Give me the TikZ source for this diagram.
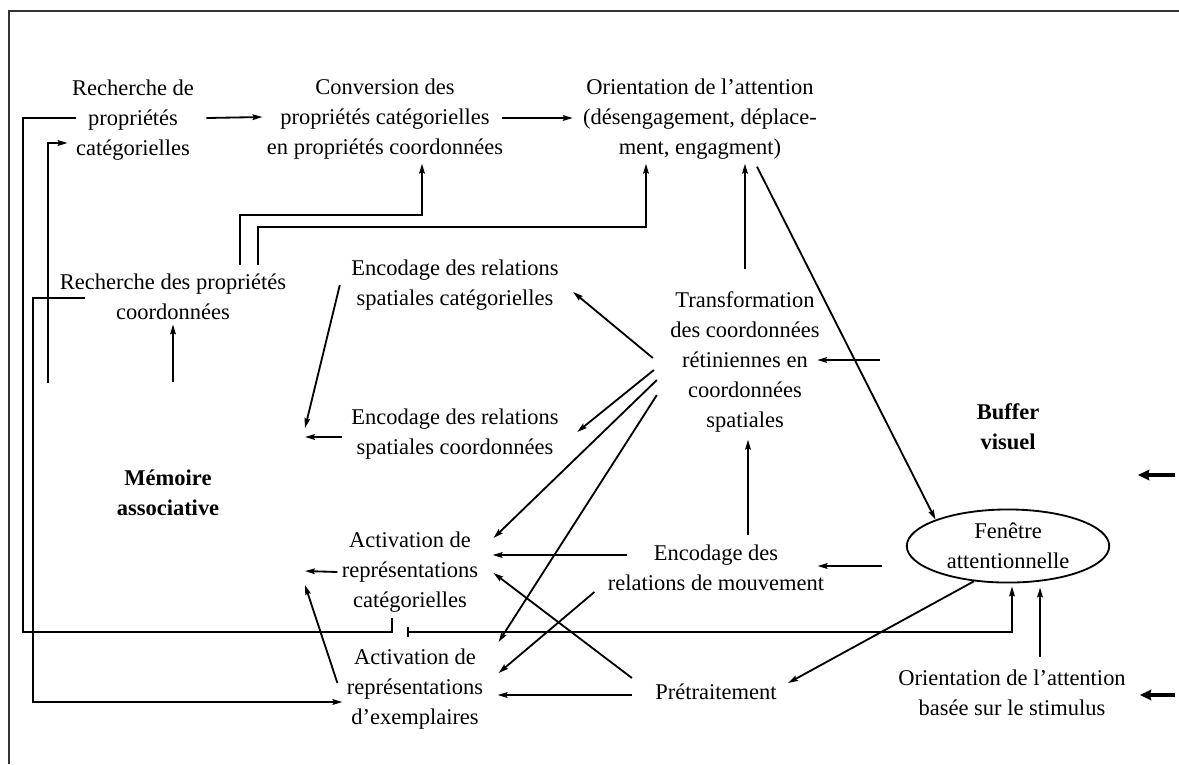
\documentclass[tikz,border=0pt]{standalone}
\usepackage{fontspec}
\setmainfont{Liberation Serif}
\usetikzlibrary{arrows.meta,shapes.geometric,calc}
\newcommand{\diagfont}{\fontsize{16}{21.3}\selectfont}
\tikzstyle{none}=[]
\tikzstyle{process}=[align=center, inner sep=3pt, font=\diagfont]
\tikzstyle{bold process}=[process, font=\diagfont\bfseries]
\tikzstyle{window}=[process, draw, ellipse, line width=1.3pt, inner sep=0pt, minimum width=144pt, minimum height=52pt]
\tikzstyle{flow line}=[line width=1.3pt]
\tikzstyle{pointer}=[flow line, -{Stealth[length=7pt,width=4pt,inset=1pt]}]
\tikzstyle{bar pointer}=[flow line, {Bar[width=7pt]}-{Stealth[length=7pt,width=4pt,inset=1pt]}]
\tikzstyle{big pointer}=[line width=2.8pt, -{Stealth[length=8pt,width=7.5pt,inset=1pt]}]
\tikzstyle{frame line}=[line width=1.8pt, black!80]

\begin{document}
\begin{tikzpicture}[x=0.25mm, y=-0.25mm]
                \useasboundingbox (0, 0) rectangle (1179, 764);
                \draw [style=frame line] (9, 764) -- (9, 11) -- (1179, 11);
                % processus
                \node [style=process] (rechcat) at (133, 120) {Recherche de\\propriétés\\catégorielles};
                \node [style=process] (conv) at (385, 119) {Conversion des\\propriétés catégorielles\\en propriétés coordonnées};
                \node [style=process] (orient) at (700, 119) {Orientation de l'attention\\(désengagement, déplace-\\ment, engagment)};
                \node [style=process] (rechcoord) at (173, 297) {Recherche des propriétés\\coordonnées};
                \node [style=process] (enccat) at (455, 285) {Encodage des relations\\spatiales catégorielles};
                \node [style=process] (enccoord) at (455, 434) {Encodage des relations\\spatiales coordonnées};
                \node [style=bold process] (memoire) at (168, 493) {Mémoire\\associative};
                \node [style=process] (transf) at (745, 362) {Transformation\\des coordonnées\\rétiniennes en\\coordonnées\\spatiales};
                \node [style=process] (actcat) at (410, 572) {Activation de\\représentations\\catégorielles};
                \node [style=process] (actex) at (415, 689) {Activation de\\représentations\\d'exemplaires};
                \node [style=process] (encmouv) at (716, 568) {Encodage des\\relations de mouvement};
                \node [style=process] (pretr) at (716, 692) {Prétraitement};
                \node [style=window] (fenetre) at (1008, 546) {Fenêtre\\attentionnelle};
                \node [style=bold process] (buffer) at (1008, 427) {Buffer\\visuel};
                \node [style=process] (orstim) at (1012, 693) {Orientation de l'attention\\basée sur le stimulus};
                % bouts libres
                \coordinate (m1) at (173, 382);
                \coordinate (m2) at (48, 383);
                \coordinate (m3) at (305, 428);
                \coordinate (m4) at (305, 437);
                \coordinate (m5) at (305, 571);
                \coordinate (m6) at (305, 585);
                \coordinate (bar) at (407, 632);
                \coordinate (t1) at (880, 360);
                \coordinate (t2) at (882, 566);
                \coordinate (b1) at (1175, 475);
                \coordinate (b1e) at (1138, 475);
                \coordinate (b2) at (1175, 695);
                \coordinate (b2e) at (1140, 695);
                % ligne du haut
                \draw [style=pointer] ($(rechcat.east)+(8,-2)$) to ($(conv.west)+(0,-2)$);
                \draw [style=pointer] ($(conv.east)+(-6,-1)$) to ($(orient.west)+(-6,-1)$);
                \draw [style=pointer] ($(rechcoord.north)+(67,-5)$) -- ++(0,-50) -| ($(conv.south)+(37,0)$);
                \draw [style=pointer] ($(rechcoord.north)+(85,-5)$) -- ++(0,-38) -| ($(orient.south)+(-54,0)$);
                \draw [style=pointer] ($(transf.north)+(0,-18)$) to (transf.north |- orient.south);
                \draw [style=pointer] ($(orient.south)+(57,3)$) to (fenetre.160);
                % memoire associative
                \draw [style=pointer] (m1) to (m1 |- rechcoord.south);
                \draw [style=pointer] (m2) |- ($(rechcat.west)+(0,23)$);
                \draw [style=flow line] ($(rechcat.west)+(8,-2)$) -- ++(-53,0) |- ($(bar)+(-15,0)$) -- ++(0,-14);
                \draw [style=pointer] ($(rechcoord)+(-88,1)$) -- ++(-52,0) |- ($(actex.west)+(0,13)$);
                \draw [style=pointer] ($(enccat.west)+(-7,0)$) to (m3);
                \draw [style=pointer] ($(enccoord.west)+(-5,3)$) to (m4);
                \draw [style=pointer] (actcat.west) to (m5);
                \draw [style=pointer] ($(actex.west)+(-5,-6)$) to (m6);
                % transformation
                \draw [style=pointer] ($(transf.west)+(-13,-4)$) to ($(enccat.east)+(10,7)$);
                \draw [style=pointer] ($(transf.west)+(-12,8)$) to ($(enccoord.east)+(14,-2)$);
                \draw [style=pointer] ($(transf.west)+(-9,18)$) to ($(actcat.east)+(11,-34)$);
                \draw [style=pointer] ($(transf.west)+(-9,33)$) to ($(actex.east)+(11,-47)$);
                \draw [style=pointer] (t1) to ($(transf.east)+(-7,-2)$);
                % mouvement et pretraitement
                \draw [style=pointer] ($(encmouv.west)+(24,-13)$) to ($(actcat.east)+(10,-17)$);
                \draw [style=pointer] ($(encmouv.west)+(-9,24)$) to ($(actex.east)+(11,-16)$);
                \draw [style=pointer] ($(encmouv.north)+(32,-6)$) to ($(transf.south)+(3,3)$);
                \draw [style=pointer] (t2) to ($(encmouv.east)+(-11,-2)$);
                \draw [style=pointer] ($(pretr.west)+(-19,-14)$) to ($(actcat.east)+(11,1)$);
                \draw [style=pointer] ($(pretr.west)+(-19,3)$) to ($(actex.east)+(10,6)$);
                % fenetre attentionnelle
                \draw [style=pointer] (fenetre.226) to ($(pretr.east)+(7,-9)$);
                \draw [style=bar pointer] (bar) -| ($(fenetre.south)+(4,3)$);
                \draw [style=pointer] ($(orstim.north)+(28,-9)$) to ($(fenetre.south)+(32,4)$);
                \draw [style=big pointer] (b1) to (b1e);
                \draw [style=big pointer] (b2) to (b2e);
\end{tikzpicture}
\end{document}
